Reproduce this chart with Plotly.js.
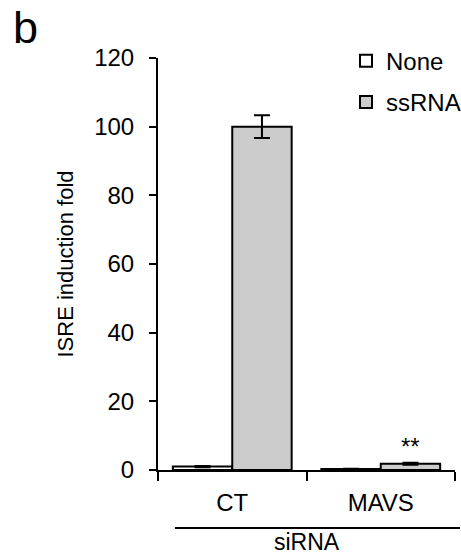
<!DOCTYPE html>
<html><head><meta charset="utf-8">
<script src="https://cdn.plot.ly/plotly-3.0.1.min.js"></script>
<style>body{margin:0;background:#fff}#c{width:461px;height:558px}</style>
</head><body><div id="c"></div>
<script>
const categories = ["CT", "MAVS"];
const seriesNames = ["None", "ssRNA"];
const noneValues = [1.0, 0.3];
const noneErrors = [0.2, 0.1];
const ssrnaValues = [100, 1.8];
const ssrnaErrors = [3.3, 0.3];
const yTicks = [0, 20, 40, 60, 80, 100, 120];

const font = {family: "Liberation Sans, Arial, sans-serif", color: "#000"};
const traces = [
  {type: "bar", name: seriesNames[0], x: categories, y: noneValues, legendgroup: "a",
   marker: {color: "#ffffff", line: {color: "#000", width: 2}},
   error_y: {type: "data", array: noneErrors, visible: true, color: "#000", thickness: 2, width: 8}},
  {type: "bar", name: seriesNames[1], x: categories, y: ssrnaValues, legendgroup: "b",
   marker: {color: "#cccccc", line: {color: "#000", width: 2}},
   error_y: {type: "data", array: ssrnaErrors, visible: true, color: "#000", thickness: 2, width: 8}}
];
const layout = {
  width: 461, height: 558,
  margin: {l: 158, r: 6, t: 58, b: 88, autoexpand: false},
  paper_bgcolor: "#fff", plot_bgcolor: "#fff",
  barmode: "group", bargap: 0.2, bargroupgap: 0,
  font: Object.assign({size: 24}, font),
  showlegend: true,
  legend: {x: 0.633, y: 1.047, xanchor: "left", yanchor: "top", bgcolor: "rgba(0,0,0,0)",
           font: Object.assign({size: 24}, font), itemwidth: 30, traceorder: "grouped", tracegroupgap: 7},
  xaxis: {type: "category", range: [-0.5, 1.5], showline: true, linecolor: "#000", linewidth: 2,
          ticks: "outside", tickson: "boundaries", ticklen: 9, tickwidth: 2, tickcolor: "#000",
          showgrid: false, zeroline: false, tickfont: Object.assign({size: 24}, font), ticklabelstandoff: 10},
  yaxis: {range: [0, 120], tickvals: yTicks, showline: true, linecolor: "#000", linewidth: 2,
          ticks: "outside", ticklen: 7, tickwidth: 2, tickcolor: "#000", showgrid: false, zeroline: false,
          tickfont: Object.assign({size: 24}, font), ticklabelstandoff: 10,
          title: {text: "ISRE induction fold", font: Object.assign({size: 22}, font), standoff: 14}},
  shapes: [
    {type: "line", xref: "paper", yref: "paper", x0: 0.057, x1: 1.017, y0: -0.141, y1: -0.141,
     line: {color: "#000", width: 2}}
  ],
  annotations: [
    {text: "siRNA", xref: "paper", yref: "paper", x: 0.5, y: -0.212, yanchor: "bottom", showarrow: false,
     font: Object.assign({size: 23}, font)},
    {text: "**", xref: "x", yref: "y", x: categories[1], xshift: 30, y: ssrnaValues[1] + ssrnaErrors[1],
     yanchor: "bottom", yshift: 1, showarrow: false, font: Object.assign({size: 24}, font)},
    {text: "b", xref: "paper", yref: "paper", x: -0.495, y: 1.14, xanchor: "left", yanchor: "top",
     showarrow: false, font: Object.assign({size: 45}, font)}
  ]
};
Plotly.newPlot("c", traces, layout, {displayModeBar: false, staticPlot: true});
</script></body></html>
